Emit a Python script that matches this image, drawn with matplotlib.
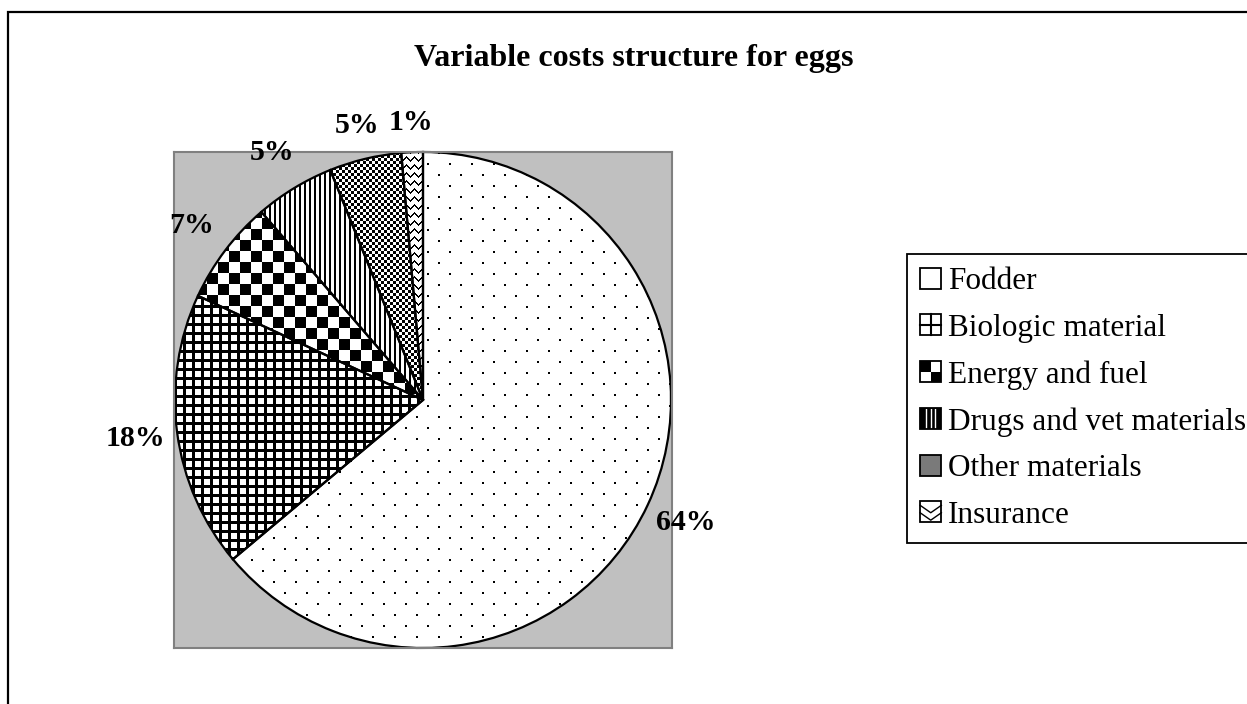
import numpy as np
import matplotlib
matplotlib.use('Agg')
import matplotlib.pyplot as plt
from matplotlib.patches import Rectangle
from matplotlib.lines import Line2D
from matplotlib.legend_handler import HandlerBase
from matplotlib.colors import ListedColormap

# ---- data ----
categories = ['Fodder', 'Biologic material', 'Energy and fuel',
              'Drugs and vet materials', 'Other materials', 'Insurance']
shares = [63.9, 18.0, 6.8, 5.2, 4.7, 1.4]
patterns = ['dots', 'grid', 'checker', 'vlines', 'fine', 'zigzag']
label_dist = [1.17, 1.17, 1.17, 1.17, 1.14, 1.12]
title = 'Variable costs structure for eggs'

plt.rcParams['font.family'] = ['Liberation Serif', 'DejaVu Serif']

W, H = 1247, 704
fig = plt.figure(figsize=(W / 100, H / 100), dpi=100)
fig.patch.set_facecolor('white')

# chart-area border (extends beyond the right/bottom edge)
fig.add_artist(Rectangle((8 / W, -0.2), 2.0, (H - 12) / H + 0.2,
                         transform=fig.transFigure, fill=False,
                         edgecolor='black', linewidth=1.6))

# plot area
L, R, T, B = 174, 672, 152, 648
pw, ph = R - L, B - T
ax = fig.add_axes([L / W, 1 - B / H, pw / W, ph / H])
ax.set_facecolor('#C0C0C0')

wedges, texts, autotexts = ax.pie(
    shares, startangle=90, counterclock=False, radius=1.0,
    autopct='%.0f%%', pctdistance=1.17, frame=True,
    wedgeprops=dict(facecolor='none', edgecolor='black', linewidth=1.6),
    textprops=dict(fontsize=21.5, fontweight='bold', color='black'))

# per-label distance (best-fit style placement)
for w, t, d in zip(wedges, autotexts, label_dist):
    ang = np.deg2rad((w.theta1 + w.theta2) / 2)
    t.set_position((d * np.cos(ang), d * np.sin(ang)))

xl = (-pw / ph, pw / ph)
yl = (-1.0, 1.0)

# fill textures (pixel patterns), clipped to each wedge
yy, xx = np.indices((ph, pw))


def texture(kind):
    if kind == 'dots':
        r, c = yy % 22, xx % 22
        m = ((r < 2) & (c < 2)) | ((((r - 11) % 22) < 2) & (((c - 11) % 22) < 2))
    elif kind == 'grid':
        m = (xx % 9 < 3) | (yy % 9 < 3)
    elif kind == 'checker':
        m = ((xx // 11 + yy // 11) % 2) == 0
    elif kind == 'vlines':
        m = (xx % 5) < 2
    elif kind == 'fine':
        m = ((xx // 3 + yy // 3) % 2) == 0
    else:  # zigzag
        m = ((yy + np.abs((xx % 8) - 4)) % 8) < 2
    return np.where(m, 0.0, 1.0)


cmap = ListedColormap(['black', 'white'])
for w, kind in zip(wedges, patterns):
    im = ax.imshow(texture(kind), cmap=cmap, vmin=0, vmax=1,
                   extent=(xl[0], xl[1], yl[0], yl[1]), origin='upper',
                   interpolation='nearest', aspect='auto', zorder=0.5)
    im.set_clip_path(w)
    w.set_zorder(2)

ax.set_xlim(*xl)
ax.set_ylim(*yl)
ax.set_aspect('auto')
ax.set_axis_on()
ax.set_frame_on(True)
ax.set_xticks([])
ax.set_yticks([])
for s in ax.spines.values():
    s.set_edgecolor('#808080')
    s.set_linewidth(1.5)

# title
fig.text(634 / W, 1 - 66 / H, title, ha='center', va='baseline',
         fontsize=23, fontweight='bold')


# legend with small pattern icons
class IconHandler(HandlerBase):
    def __init__(self, kind):
        super().__init__()
        self.kind = kind

    def create_artists(self, legend, orig_handle, xdescent, ydescent,
                       width, height, fontsize, trans):
        s = min(width, height)
        x0 = -xdescent + (width - s) / 2
        y0 = -ydescent + (height - s) / 2
        k = self.kind
        face = {'fine': '#7a7a7a', 'vlines': 'black'}.get(k, 'white')
        arts = [Rectangle((x0, y0), s, s, facecolor=face, edgecolor='none',
                          transform=trans)]
        if k == 'grid':
            arts.append(Line2D([x0 + s / 2] * 2, [y0, y0 + s], color='black',
                               lw=1.5, transform=trans))
            arts.append(Line2D([x0, x0 + s], [y0 + s / 2] * 2, color='black',
                               lw=1.5, transform=trans))
        elif k == 'checker':
            arts.append(Rectangle((x0, y0 + s / 2), s / 2, s / 2,
                                  facecolor='black', transform=trans))
            arts.append(Rectangle((x0 + s / 2, y0), s / 2, s / 2,
                                  facecolor='black', transform=trans))
        elif k == 'vlines':
            for f in (0.3, 0.5, 0.7):
                arts.append(Line2D([x0 + s * f] * 2, [y0 + 1, y0 + s - 1],
                                   color='white', lw=1.0, transform=trans))
        elif k == 'zigzag':
            arts.append(Line2D([x0, x0 + s / 2, x0 + s], [y0 + s * 0.8, y0 + s * 0.45, y0 + s * 0.8],
                               color='black', lw=1.0, transform=trans))
            arts.append(Line2D([x0, x0 + s / 2, x0 + s], [y0 + s * 0.45, y0 + s * 0.1, y0 + s * 0.45],
                               color='black', lw=1.0, transform=trans))
        arts.append(Rectangle((x0, y0), s, s, facecolor='none',
                              edgecolor='black', lw=1.3, transform=trans))
        return arts


leg = fig.legend(wedges, categories,
                 handler_map={w: IconHandler(k) for w, k in zip(wedges, patterns)},
                 loc='upper left', bbox_to_anchor=(907 / W, 1 - 254 / H),
                 bbox_transform=fig.transFigure, borderaxespad=0,
                 fontsize=22.5, handlelength=0.68, handleheight=0.68,
                 handletextpad=0.22, labelspacing=0.56, borderpad=0.42,
                 frameon=True, fancybox=False, framealpha=1, edgecolor='black')
leg.get_frame().set_linewidth(1.3)

fig.savefig('out.png', dpi=100)
